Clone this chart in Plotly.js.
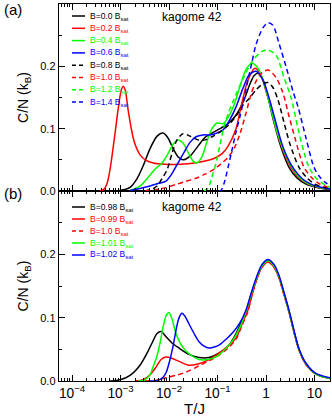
<!DOCTYPE html>
<html><head><meta charset="utf-8">
<script src="https://cdn.plot.ly/plotly-3.0.1.min.js"></script>
<style>html,body{margin:0;padding:0;background:#fff;}#chart{width:332px;height:417px;}</style>
</head><body><div id="chart"></div>
<script>
// ---------- Panel (a): kagome 42, B/Bsat = 0.0 ... 1.4 ----------
const fieldsA = ['0.0','0.2','0.4','0.6','0.8','1.0','1.2','1.4'];
const colorsA = ['#000000','#ff0000','#00ff00','#0000ff','#000000','#ff0000','#00ff00','#0000ff'];
const dashedA = [false,false,false,false,true,true,true,true];

const tA_00 = [3.78e-4,9.77e-4,1.57e-3,2.19e-3,2.91e-3,4.06e-3,5.66e-3,7.52e-3,9.53e-3,0.0121,0.0153,0.0194,0.0271,0.0396,0.0553,0.077,0.113,0.165,0.241,0.352,0.468,0.566,0.684,0.868,1.10,1.46,2.04,2.98,4.36,6.68,10.7,20.9];
const cA_00 = [0,0.001,0.006,0.02,0.04,0.068,0.088,0.093,0.085,0.068,0.055,0.05,0.056,0.072,0.086,0.093,0.1,0.108,0.122,0.146,0.172,0.185,0.189,0.178,0.15,0.11,0.07,0.038,0.021,0.011,0.006,0.002];

const tA_02 = [3.78e-4,4.57e-4,5.27e-4,6.08e-4,7.7e-4,8.87e-4,1.02e-3,1.13e-3,1.24e-3,1.43e-3,1.73e-3,1.99e-3,2.52e-3,3.36e-3,4.68e-3,8.27e-3,0.0169,0.0344,0.0553,0.0888,0.124,0.165,0.241,0.305,0.425,0.593,0.789,1.0,1.21,1.61,2.24,3.28,4.79,7.34,11.8,20.9];
const cA_02 = [0,0.003,0.012,0.035,0.093,0.13,0.16,0.168,0.163,0.13,0.093,0.075,0.058,0.049,0.045,0.043,0.043,0.045,0.048,0.053,0.06,0.072,0.1,0.135,0.178,0.197,0.186,0.16,0.14,0.1,0.065,0.038,0.021,0.011,0.006,0.003];

const tA_04 = [1.57e-3,2.52e-3,3.52e-3,5.14e-3,7.17e-3,9.53e-3,0.0121,0.0153,0.0194,0.0247,0.0313,0.0378,0.0479,0.0608,0.077,0.0977,0.13,0.165,0.219,0.291,0.387,0.514,0.684,0.868,1.10,1.33,1.77,2.46,3.44,5.02,7.70,12.4,20.9];
const cA_04 = [0.001,0.008,0.02,0.035,0.045,0.06,0.075,0.082,0.077,0.062,0.048,0.045,0.055,0.08,0.1,0.109,0.108,0.118,0.138,0.168,0.195,0.205,0.197,0.178,0.15,0.125,0.09,0.06,0.038,0.021,0.011,0.006,0.003];

const tA_06 = [1.57e-3,2.52e-3,4.06e-3,5.93e-3,8.67e-3,0.0115,0.0153,0.0204,0.0271,0.036,0.0502,0.07,0.0977,0.13,0.181,0.241,0.336,0.446,0.622,0.868,1.15,1.53,2.04,2.71,3.78,5.52,8.47,13.6,20.9];
const cA_06 = [0.001,0.004,0.008,0.012,0.016,0.028,0.045,0.062,0.078,0.087,0.09,0.09,0.093,0.098,0.115,0.135,0.165,0.186,0.192,0.178,0.15,0.115,0.08,0.055,0.035,0.02,0.011,0.006,0.003];

const tA_08 = [3.2e-3,4.46e-3,5.66e-3,7.17e-3,9.1e-3,0.0115,0.0146,0.0194,0.0271,0.0396,0.0553,0.077,0.113,0.165,0.241,0.336,0.446,0.622,0.827,1.10,1.39,1.77,2.35,3.13,4.79,7.0,10.2,15.7,20.9];
const cA_08 = [0,0.003,0.008,0.02,0.034,0.06,0.082,0.092,0.088,0.082,0.082,0.087,0.095,0.105,0.12,0.138,0.148,0.162,0.171,0.174,0.166,0.146,0.11,0.075,0.038,0.021,0.011,0.006,0.004];

const tA_10 = [3.2e-3,5.14e-3,8.27e-3,0.0133,0.0214,0.0344,0.0553,0.0888,0.124,0.165,0.219,0.291,0.387,0.491,0.622,0.827,1.10,1.61,2.24,2.98,3.96,6.08,8.88,13.0,20.9];
const cA_10 = [0,0.002,0.005,0.01,0.015,0.02,0.027,0.036,0.045,0.054,0.068,0.092,0.125,0.155,0.176,0.19,0.194,0.182,0.157,0.12,0.085,0.038,0.021,0.011,0.005];

const tA_12 = [0.0527,0.0637,0.0734,0.0931,0.113,0.136,0.173,0.241,0.336,0.539,0.827,1.10,1.61,2.35,3.28,4.57,6.08,7.70,10.7,15.0,20.9];
const cA_12 = [0,0.004,0.018,0.045,0.075,0.103,0.128,0.155,0.18,0.21,0.224,0.226,0.218,0.182,0.15,0.1,0.062,0.038,0.021,0.012,0.006];

const tA_14 = [0.107,0.118,0.136,0.165,0.199,0.241,0.291,0.352,0.425,0.514,0.622,0.868,1.10,1.39,1.85,2.58,3.60,4.57,6.68,9.77,13.0,17.3,20.9];
const cA_14 = [0,0.001,0.012,0.038,0.066,0.095,0.12,0.148,0.178,0.207,0.235,0.262,0.27,0.266,0.237,0.2,0.16,0.135,0.085,0.038,0.022,0.013,0.009];

// ---------- Panel (b): kagome 42, B/Bsat = 0.98 ... 1.02 ----------
const fieldsB = ['0.98','0.99','1.0','1.01','1.02'];
const colorsB = ['#000000','#ff0000','#ff0000','#00ff00','#0000ff'];
const dashedB = [false,false,true,false,false];

const tB_098 = [6.08e-4,9.77e-4,1.57e-3,2.52e-3,3.52e-3,4.46e-3,5.66e-3,6.84e-3,8.67e-3,0.0115,0.0161,0.0258,0.0416,0.0668,0.113,0.165,0.241,0.305,0.387,0.491,0.622,0.827,1.10,1.46,1.85,2.35,2.98,3.78,4.79,6.68,10.7,20.9];
const cB_098 = [0,0.002,0.009,0.025,0.044,0.06,0.075,0.078,0.07,0.06,0.052,0.042,0.037,0.037,0.045,0.055,0.075,0.092,0.11,0.136,0.16,0.182,0.19,0.182,0.165,0.138,0.11,0.078,0.05,0.027,0.011,0.004];

const tB_099 = [1.99e-3,2.91e-3,4.06e-3,5.39e-3,6.84e-3,8.67e-3,0.0115,0.0161,0.0258,0.0396,0.0637,0.107,0.165,0.241,0.32,0.425,0.491,0.622,0.827,1.10,1.46,1.85,2.35,2.98,3.78,4.79,6.68,10.7,20.9];
const cB_099 = [0,0.002,0.01,0.022,0.034,0.038,0.036,0.031,0.025,0.027,0.033,0.044,0.055,0.068,0.09,0.112,0.13,0.157,0.18,0.188,0.18,0.163,0.136,0.109,0.077,0.049,0.026,0.011,0.004];

const tB_100 = [3.2e-3,5.14e-3,8.67e-3,0.0139,0.0224,0.0416,0.0668,0.107,0.165,0.241,0.32,0.425,0.491,0.622,0.827,1.10,1.46,1.85,2.35,2.98,3.78,4.79,6.68,10.7,20.9];
const cB_100 = [0,0.001,0.005,0.009,0.014,0.024,0.032,0.041,0.052,0.066,0.088,0.11,0.13,0.157,0.18,0.188,0.18,0.163,0.136,0.109,0.077,0.049,0.026,0.011,0.004];

const tB_101 = [2.3e-3,3.2e-3,4.06e-3,4.68e-3,5.66e-3,6.52e-3,7.52e-3,8.67e-3,0.01,0.0115,0.0139,0.0185,0.0258,0.0416,0.0637,0.0931,0.143,0.209,0.291,0.387,0.491,0.622,0.827,1.10,1.46,1.85,2.35,2.98,3.78,4.79,6.68,10.7,20.9];
const cB_101 = [0,0.002,0.01,0.022,0.04,0.06,0.085,0.103,0.108,0.098,0.075,0.055,0.043,0.034,0.034,0.038,0.05,0.065,0.085,0.11,0.136,0.16,0.182,0.19,0.182,0.165,0.138,0.11,0.078,0.05,0.027,0.011,0.004];

const tB_102 = [4.06e-3,5.93e-3,7.52e-3,8.67e-3,0.01,0.0121,0.0139,0.0161,0.0185,0.0214,0.0258,0.0328,0.0416,0.0527,0.0668,0.0888,0.113,0.15,0.209,0.291,0.387,0.491,0.622,0.827,1.10,1.46,1.85,2.35,2.98,3.78,4.79,6.68,10.7,20.9];
const cB_102 = [0,0.001,0.006,0.013,0.028,0.055,0.08,0.1,0.107,0.102,0.09,0.075,0.062,0.055,0.052,0.054,0.058,0.066,0.077,0.092,0.112,0.138,0.162,0.184,0.192,0.184,0.167,0.14,0.112,0.08,0.051,0.028,0.012,0.005];

const yTickVals = [0, 0.1, 0.2];
const yTickText = ['0.0', '0.1', '0.2'];
const yMinorVals = [0.05, 0.15, 0.25];
const panelLabel = ['(a)', '(b)'];
const systemLabel = 'kagome 42';

const seriesA = [[tA_00,cA_00],[tA_02,cA_02],[tA_04,cA_04],[tA_06,cA_06],[tA_08,cA_08],[tA_10,cA_10],[tA_12,cA_12],[tA_14,cA_14]];
const seriesB = [[tB_098,cB_098],[tB_099,cB_099],[tB_100,cB_100],[tB_101,cB_101],[tB_102,cB_102]];

// ---------- geometry (pixels) ----------
const PL = 59, PR = 330, PT = 4, PB = 381, PMID = 191;
const px = x => (x - PL) / (PR - PL);
const py = y => (PB - y) / (PB - PT);
const split = py(PMID);
const DASH = '5px,3.5px';
const LW = 1.5;

const traces = [];
seriesA.forEach((s, i) => traces.push({
  x: s[0], y: s[1], xaxis: 'x2', yaxis: 'y2', type: 'scatter', mode: 'lines',
  name: 'B=' + fieldsA[i] + ' B<sub>sat</sub>',
  line: {color: colorsA[i], width: LW, dash: dashedA[i] ? DASH : 'solid', shape: 'spline', smoothing: 0.8},
  hoverinfo: 'skip'
}));
seriesB.forEach((s, i) => traces.push({
  x: s[0], y: s[1], xaxis: 'x', yaxis: 'y', type: 'scatter', mode: 'lines',
  name: 'B=' + fieldsB[i] + ' B<sub>sat</sub>',
  line: {color: colorsB[i], width: LW, dash: dashedB[i] ? DASH : 'solid', shape: 'spline', smoothing: 0.8},
  hoverinfo: 'skip'
}));

const FONT = 'Liberation Sans, Arial, Helvetica, sans-serif';
const xBase = {
  type: 'log', range: [-4.27, 1.32], showline: true, linecolor: '#000', linewidth: 1.3,
  mirror: 'ticks', ticks: 'inside', ticklen: 6, tickwidth: 1, tickcolor: '#000',
  tickmode: 'linear', tick0: 0, dtick: 1, exponentformat: 'power', showexponent: 'all',
  showgrid: false, zeroline: false, tickfont: {size: 11, family: FONT, color: '#000'},
  minor: {ticks: 'inside', ticklen: 3, tickwidth: 1, tickcolor: '#000', dtick: 'D1', showgrid: false}
};
const yBase = {
  range: [0, 0.3], showline: true, linecolor: '#000', linewidth: 1.3, mirror: 'ticks',
  ticks: 'inside', ticklen: 6, tickwidth: 1, tickcolor: '#000',
  tickmode: 'array', tickvals: yTickVals, ticktext: yTickText,
  showgrid: false, zeroline: false, tickfont: {size: 11, family: FONT, color: '#000'},
  minor: {ticks: 'inside', ticklen: 3, tickwidth: 1, tickcolor: '#000', tickmode: 'array', tickvals: yMinorVals, showgrid: false},
  title: {text: 'C/N (k<sub>B</sub>)', font: {size: 14, family: FONT, color: '#000'}, standoff: 8}
};

const annotations = [];
const shapes = [];
function addLegend(fields, colors, dashed, y0, step) {
  fields.forEach((f, i) => {
    const yy = py(y0 + step * i);
    shapes.push({type: 'line', xref: 'paper', yref: 'paper', x0: px(72), x1: px(85), y0: yy, y1: yy,
      line: {color: colors[i], width: LW, dash: dashed[i] ? '4px,3px' : 'solid'}});
    annotations.push({xref: 'paper', yref: 'paper', x: px(88), y: yy, xanchor: 'left', yanchor: 'middle',
      showarrow: false, text: 'B=' + f + ' B<sub>sat</sub>', font: {size: 8.5, family: FONT, color: colors[i]}});
  });
}
addLegend(fieldsA, colorsA, dashedA, 16, 12.3);
addLegend(fieldsB, colorsB, dashedB, 207, 12);

annotations.push({xref: 'paper', yref: 'paper', x: px(2), y: py(10), xanchor: 'left', yanchor: 'middle', showarrow: false,
  text: panelLabel[0], font: {size: 15, family: FONT, color: '#000'}});
annotations.push({xref: 'paper', yref: 'paper', x: px(2), y: py(193), xanchor: 'left', yanchor: 'middle', showarrow: false,
  text: panelLabel[1], font: {size: 15, family: FONT, color: '#000'}});
annotations.push({xref: 'paper', yref: 'paper', x: px(160), y: py(17), xanchor: 'left', yanchor: 'middle', showarrow: false,
  text: systemLabel, font: {size: 12, family: FONT, color: '#000'}});
annotations.push({xref: 'paper', yref: 'paper', x: px(160), y: py(207), xanchor: 'left', yanchor: 'middle', showarrow: false,
  text: systemLabel, font: {size: 12, family: FONT, color: '#000'}});

const layout = {
  width: 332, height: 417,
  margin: {l: PL, r: 332 - PR, t: PT, b: 417 - PB},
  paper_bgcolor: '#fff', plot_bgcolor: '#fff', showlegend: false,
  font: {family: FONT, size: 11, color: '#000'},
  xaxis: Object.assign({}, xBase, {anchor: 'y', domain: [0, 1],
    title: {text: 'T/J', font: {size: 15, family: FONT, color: '#000'}, standoff: 4}}),
  xaxis2: Object.assign({}, xBase, {anchor: 'y2', domain: [0, 1], matches: 'x', showticklabels: false}),
  yaxis: Object.assign({}, yBase, {anchor: 'x', domain: [0, split]}),
  yaxis2: Object.assign({}, yBase, {anchor: 'x2', domain: [split, 1]}),
  annotations: annotations, shapes: shapes
};

Plotly.newPlot('chart', traces, layout, {staticPlot: true, displayModeBar: false});
</script></body></html>
